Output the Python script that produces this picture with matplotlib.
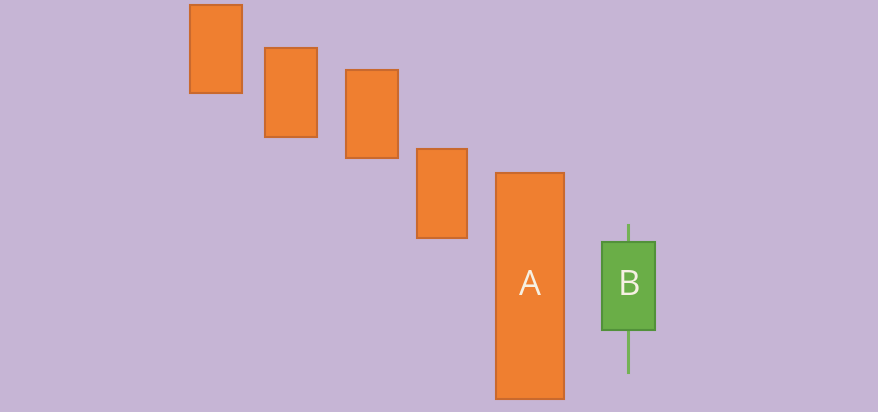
import matplotlib.pyplot as plt
from matplotlib.patches import Rectangle

# candle data (price units, bottom of picture = 0)
labels = ['', '', '', '', 'A', 'B']
opens = [407, 364, 342, 263, 239, 82]
closes = [319, 275, 254, 174, 13, 170]
highs = [407, 364, 342, 263, 239, 187]
lows = [319, 275, 254, 174, 13, 40]

# layout
positions = [216, 291, 372, 442, 530, 628.5]
widths = [52, 52, 52, 50, 68, 53]

bg = '#c6b5d5'
down_face, down_edge = '#ef7f30', '#c9692e'
up_face, up_edge = '#6aae47', '#52913a'

fig = plt.figure(figsize=(8.79, 4.12), dpi=100)
fig.patch.set_facecolor(bg)
ax = fig.add_axes([0, 0, 1, 1])
ax.set_facecolor(bg)
ax.set_xlim(0, 879)
ax.set_ylim(0, 412)
ax.axis('off')

for x, w, o, c, h, l, lab in zip(positions, widths, opens, closes, highs, lows, labels):
    up = c > o
    face = up_face if up else down_face
    edge = up_edge if up else down_edge
    lo, hi = min(o, c), max(o, c)
    if h > hi or l < lo:
        ax.plot([x, x], [l, h], color='#74b255', linewidth=2.2, zorder=1)
    ax.add_patch(Rectangle((x - w / 2, lo), w, hi - lo, facecolor=face,
                           edgecolor=edge, linewidth=1.5, zorder=2))
    if lab:
        ax.text(x, (lo + hi) / 2, lab, ha='center', va='center', fontsize=25,
                color='#f6f0e2', family='Open Sans', zorder=3)

fig.savefig('out.png', dpi=100, facecolor=bg)
